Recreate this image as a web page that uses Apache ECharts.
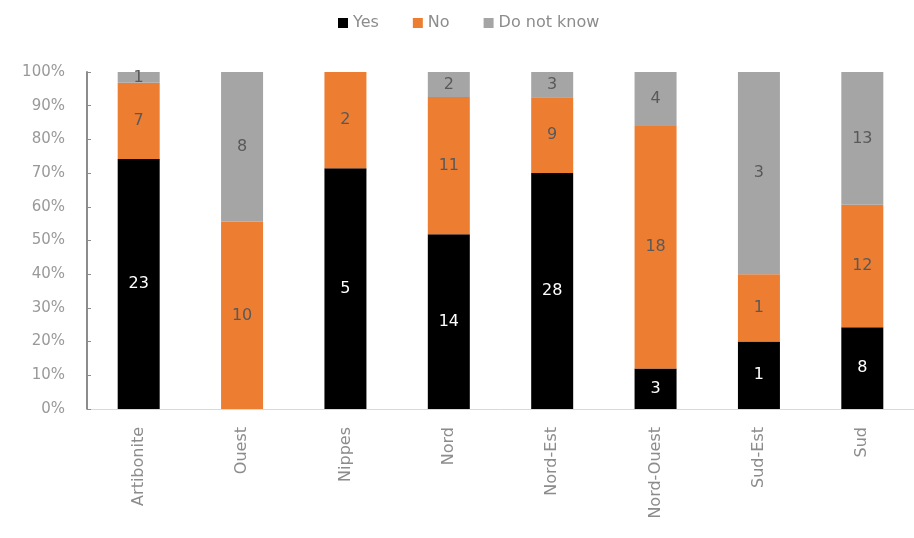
<!DOCTYPE html>
<html>
<head>
<meta charset="utf-8">
<script src="https://cdn.jsdelivr.net/npm/echarts@6/dist/echarts.min.js"></script>
<style>
  html, body { margin: 0; padding: 0; background: #fff; }
  #chart { width: 914px; height: 538px; }
</style>
</head>
<body>
<div id="chart"></div>
<script>
// Departments and response counts per answer
const categories = ['Artibonite', 'Ouest', 'Nippes', 'Nord', 'Nord-Est', 'Nord-Ouest', 'Sud-Est', 'Sud'];
const yesCounts = [23, 0, 5, 14, 28, 3, 1, 8];
const noCounts = [7, 10, 2, 11, 9, 18, 1, 12];
const dnkCounts = [1, 8, 0, 2, 3, 4, 3, 13];
const yTicks = ['0%', '10%', '20%', '30%', '40%', '50%', '60%', '70%', '80%', '90%', '100%'];

// Each bar shows the share of its department's total; labels keep the raw count
const totals = categories.map((_, i) => yesCounts[i] + noCounts[i] + dnkCounts[i]);
const share = (counts) => counts.map((c, i) => ({ value: c / totals[i] * 100, count: c }));

const font = '"DejaVu Sans", sans-serif';

function makeSeries(name, counts, color, labelColor) {
  return {
    name: name,
    type: 'bar',
    stack: 'total',
    barWidth: 42,
    data: share(counts),
    itemStyle: { color: color },
    label: {
      show: true,
      position: 'inside',
      color: labelColor,
      fontSize: 16,
      fontFamily: font,
      formatter: (p) => (p.data.count ? String(p.data.count) : '')
    }
  };
}

const chart = echarts.init(document.getElementById('chart'));
chart.setOption({
  animation: false,
  backgroundColor: '#ffffff',
  legend: {
    top: 10,
    left: 333,
    itemWidth: 10,
    itemHeight: 10,
    itemGap: 34,
    icon: 'rect',
    textStyle: { color: '#8c8c8c', fontSize: 16, fontFamily: font },
    data: ['Yes', 'No', 'Do not know']
  },
  grid: { left: 87, top: 72, width: 838, height: 337 },
  xAxis: {
    type: 'category',
    data: categories,
    axisLine: { lineStyle: { color: '#d9d9d9' } },
    axisTick: { show: false },
    axisLabel: {
      rotate: 90,
      color: '#8c8c8c',
      fontSize: 16,
      fontFamily: font,
      margin: 18
    }
  },
  yAxis: {
    type: 'value',
    min: 0,
    max: 100,
    interval: 10,
    splitLine: { show: false },
    axisLine: { show: true, lineStyle: { color: '#8c8c8c', width: 2 } },
    axisTick: { show: true, inside: true, length: 4, lineStyle: { color: '#8c8c8c' } },
    axisLabel: {
      color: '#999999',
      fontSize: 15,
      fontFamily: font,
      margin: 22,
      formatter: (v) => yTicks[Math.round(v / 10)]
    }
  },
  series: [
    makeSeries('Yes', yesCounts, '#000000', '#ffffff'),
    makeSeries('No', noCounts, '#ED7D31', '#595959'),
    makeSeries('Do not know', dnkCounts, '#A5A5A5', '#595959')
  ]
});
</script>
</body>
</html>
